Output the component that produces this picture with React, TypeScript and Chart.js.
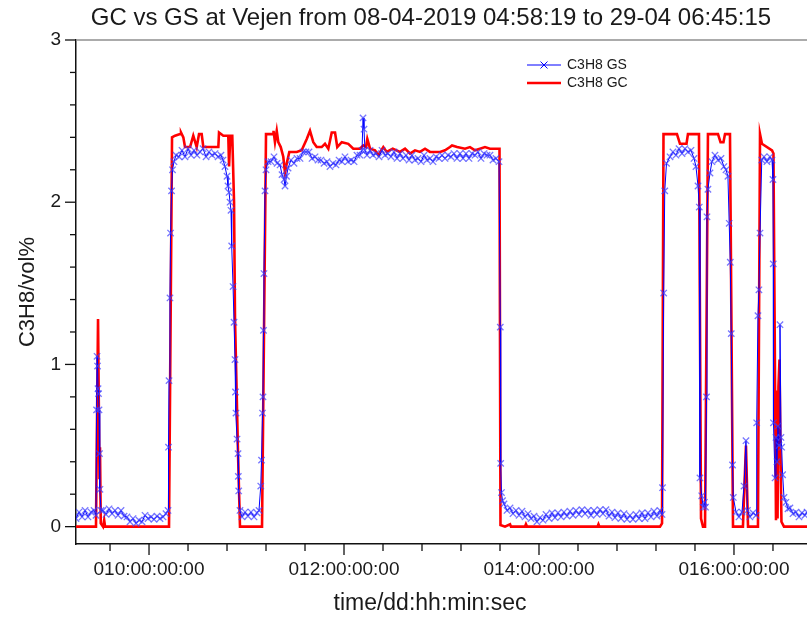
import React, { useEffect, useRef } from "react";
import { Chart, registerables } from "chart.js";
Chart.register(...registerables);

const FONT = '"Liberation Sans", Arial, Helvetica, sans-serif';

const chartTitle = "GC vs GS at Vejen from 08-04-2019 04:58:19 to 29-04 06:45:15";
const xAxisTitle = "time/dd:hh:min:sec";
const yAxisTitle = "C3H8/vol%";
const seriesNames = ["C3H8 GS", "C3H8 GC"];

const xMajorTicks = [10, 12, 14, 16];
const xTickLabels = ["010:00:00:00", "012:00:00:00", "014:00:00:00", "016:00:00:00"];
const xMinorTicks = [9.6, 10.4, 10.8, 11.2, 11.6, 12.4, 12.8, 13.2, 13.6, 14.4, 14.8, 15.2, 15.6, 16.4];
const yMajorTicks = [0, 1, 2, 3];
const yTickLabels = ["0", "1", "2", "3"];
const yMinorTicks = [0.2, 0.4, 0.6, 0.8, 1.2, 1.4, 1.6, 1.8, 2.2, 2.4, 2.6, 2.8];

// C3H8 GS (time in days, value in vol%)
const gsTime = [
  9.251, 9.282, 9.313, 9.344, 9.374, 9.405, 9.436, 9.456, 9.462, 9.467, 9.472, 9.477, 9.482, 9.487, 9.492, 9.497,
  9.508, 9.528, 9.559, 9.59, 9.621, 9.651, 9.682, 9.713, 9.744, 9.774, 9.805, 9.836, 9.867, 9.897, 9.928, 9.959,
  9.99, 10.021, 10.051, 10.082, 10.113, 10.144, 10.174, 10.195, 10.2, 10.205, 10.215, 10.221, 10.231, 10.241, 10.256,
  10.277, 10.308, 10.338, 10.369, 10.4, 10.431, 10.462, 10.492, 10.523, 10.554, 10.585, 10.615, 10.646, 10.677, 10.708,
  10.738, 10.759, 10.779, 10.8, 10.81, 10.821, 10.831, 10.841, 10.848, 10.862, 10.872, 10.882, 10.887, 10.892, 10.903,
  10.913, 10.916, 10.92, 10.933, 10.954, 10.985, 11.015, 11.046, 11.077, 11.108, 11.128, 11.146, 11.154, 11.164,
  11.169, 11.174, 11.179, 11.19, 11.2, 11.221, 11.251, 11.282, 11.313, 11.344, 11.364, 11.385, 11.395, 11.41, 11.426,
  11.456, 11.487, 11.518, 11.549, 11.579, 11.61, 11.641, 11.672, 11.703, 11.733, 11.764, 11.795, 11.826, 11.856,
  11.887, 11.918, 11.949, 11.979, 12.01, 12.041, 12.072, 12.103, 12.133, 12.164, 12.185, 12.195, 12.205, 12.215,
  12.236, 12.267, 12.297, 12.328, 12.359, 12.39, 12.421, 12.451, 12.482, 12.513, 12.544, 12.574, 12.605, 12.636,
  12.667, 12.697, 12.728, 12.759, 12.79, 12.821, 12.851, 12.882, 12.913, 12.944, 12.974, 13.005, 13.036, 13.067,
  13.097, 13.128, 13.159, 13.19, 13.221, 13.251, 13.282, 13.313, 13.344, 13.374, 13.405, 13.436, 13.467, 13.497,
  13.528, 13.559, 13.59, 13.603, 13.607, 13.615, 13.626, 13.641, 13.672, 13.703, 13.733, 13.764, 13.795, 13.826,
  13.856, 13.887, 13.918, 13.949, 13.979, 14.01, 14.041, 14.072, 14.103, 14.133, 14.164, 14.195, 14.226, 14.256,
  14.287, 14.318, 14.349, 14.379, 14.41, 14.441, 14.472, 14.503, 14.533, 14.564, 14.595, 14.626, 14.656, 14.687,
  14.718, 14.749, 14.779, 14.81, 14.841, 14.872, 14.903, 14.933, 14.964, 14.995, 15.026, 15.056, 15.087, 15.118,
  15.149, 15.179, 15.21, 15.241, 15.262, 15.267, 15.279, 15.29, 15.308, 15.344, 15.374, 15.405, 15.436, 15.467,
  15.497, 15.528, 15.559, 15.59, 15.61, 15.631, 15.644, 15.651, 15.669, 15.685, 15.697, 15.708, 15.718, 15.723,
  15.733, 15.754, 15.774, 15.805, 15.836, 15.867, 15.897, 15.918, 15.938, 15.951, 15.962, 15.972, 15.985, 15.993,
  16.021, 16.051, 16.082, 16.103, 16.123, 16.138, 16.164, 16.195, 16.226, 16.233, 16.246, 16.256, 16.267, 16.285,
  16.308, 16.338, 16.369, 16.39, 16.4, 16.403, 16.405, 16.421, 16.431, 16.441, 16.451, 16.462, 16.472, 16.482,
  16.489, 16.499, 16.513, 16.533, 16.554, 16.574, 16.605, 16.636, 16.667, 16.697, 16.728, 16.749,
];
const gsValue = [
  0.05, 0.09, 0.06, 0.1, 0.06, 0.09, 0.1, 0.07, 0.72, 1.05, 0.99, 0.85, 0.82, 0.72, 0.45, 0.23,
  0.1, 0.1, 0.075, 0.11, 0.08, 0.1, 0.07, 0.1, 0.065, 0.06, 0.03, 0.05, 0.02, 0.04, 0.03, 0.07,
  0.05, 0.06, 0.045, 0.065, 0.05, 0.06, 0.08, 0.1, 0.49, 0.9, 1.41, 1.81, 2.07, 2.2, 2.25,
  2.29, 2.28, 2.32, 2.28, 2.33, 2.29, 2.32, 2.29, 2.31, 2.33, 2.28, 2.31, 2.29, 2.3, 2.28,
  2.29, 2.26, 2.22, 2.16, 2.1, 2.06, 2.0, 1.95, 1.73, 1.48, 1.26, 1.03, 0.83, 0.7, 0.54,
  0.45, 0.31, 0.22, 0.1, 0.06, 0.09, 0.065, 0.09, 0.06, 0.085, 0.1, 0.25, 0.41, 0.7,
  0.8, 1.21, 1.56, 2.07, 2.2, 2.25, 2.25, 2.28, 2.24, 2.23, 2.17, 2.14, 2.1, 2.16, 2.21,
  2.26, 2.24, 2.27, 2.27, 2.31, 2.31, 2.31, 2.27, 2.28, 2.26, 2.26, 2.24, 2.25, 2.22,
  2.24, 2.23, 2.26, 2.25, 2.28, 2.25, 2.26, 2.25, 2.29, 2.29, 2.32, 2.52, 2.45, 2.32,
  2.29, 2.32, 2.29, 2.3, 2.28, 2.32, 2.29, 2.3, 2.28, 2.31, 2.27, 2.3, 2.27, 2.29,
  2.26, 2.29, 2.26, 2.27, 2.25, 2.29, 2.26, 2.27, 2.25, 2.28, 2.27, 2.29, 2.27, 2.29,
  2.28, 2.3, 2.27, 2.3, 2.27, 2.3, 2.27, 2.3, 2.29, 2.31, 2.27, 2.3, 2.29, 2.29,
  2.26, 2.27, 2.25, 1.23, 0.39, 0.21, 0.16, 0.14, 0.1, 0.115, 0.08, 0.1, 0.07, 0.095,
  0.06, 0.08, 0.05, 0.065, 0.03, 0.055, 0.04, 0.075, 0.05, 0.085, 0.055, 0.085, 0.06, 0.09,
  0.065, 0.095, 0.07, 0.1, 0.075, 0.105, 0.08, 0.1, 0.07, 0.1, 0.075, 0.105, 0.08, 0.105,
  0.065, 0.09, 0.055, 0.085, 0.05, 0.08, 0.045, 0.07, 0.045, 0.075, 0.05, 0.085, 0.05, 0.085,
  0.06, 0.095, 0.065, 0.1, 0.075, 0.24, 1.44, 2.07, 2.24, 2.28, 2.31, 2.29, 2.33, 2.3,
  2.33, 2.31, 2.32, 2.27, 2.22, 2.1, 1.97, 0.3, 0.19, 0.12, 0.15, 0.12, 0.8, 1.91,
  2.08, 2.18, 2.25, 2.29, 2.26, 2.27, 2.22, 2.2, 2.16, 1.87, 1.63, 1.19, 0.38, 0.18,
  0.09, 0.06, 0.09, 0.25, 0.53, 0.1, 0.06, 0.085, 0.07, 0.64, 1.3, 1.46, 1.81, 2.26,
  2.28, 2.25, 2.28, 2.26, 2.14, 1.62, 0.64, 0.3, 0.55, 0.4, 0.62, 0.5, 1.245, 0.55,
  0.49, 0.32, 0.18, 0.15, 0.11, 0.115, 0.08, 0.09, 0.06, 0.085, 0.07, 0.09,
];

// C3H8 GC (time in days, value in vol%)
const gcTime = [
  9.251, 9.456, 9.477, 9.492, 9.497, 9.505, 9.528, 9.54, 9.549, 10.205, 10.236, 10.267, 10.318, 10.328, 10.352,
  10.369, 10.421, 10.454, 10.489, 10.513, 10.54, 10.557, 10.711, 10.718, 10.762, 10.813, 10.821, 10.834, 10.854,
  10.872, 10.882, 10.913, 10.933, 11.159, 11.2, 11.272, 11.277, 11.292, 11.31, 11.326, 11.351, 11.377, 11.395,
  11.413, 11.439, 11.515, 11.566, 11.618, 11.651, 11.685, 11.72, 11.771, 11.805, 11.839, 11.874, 11.908, 11.931,
  11.977, 12.044, 12.095, 12.164, 12.198, 12.226, 12.239, 12.267, 12.318, 12.352, 12.403, 12.438, 12.5, 12.574,
  12.626, 12.677, 12.728, 12.779, 12.831, 12.882, 12.933, 12.985, 13.036, 13.087, 13.108, 13.16, 13.241, 13.292,
  13.344, 13.395, 13.446, 13.497, 13.595, 13.605, 13.651, 13.703, 13.713, 13.856, 13.866, 13.877, 14.6, 14.61,
  14.62, 15.241, 15.262, 15.277, 15.415, 15.446, 15.513, 15.528, 15.641, 15.662, 15.682, 15.703, 15.733, 15.836,
  15.862, 15.892, 15.908, 15.959, 15.99, 16.092, 16.123, 16.144, 16.246, 16.267, 16.287, 16.39, 16.405, 16.431,
  16.441, 16.447, 16.456, 16.467, 16.477, 16.487, 16.513, 16.749,
];
const gcValue = [
  0.0, 0.0, 1.28, 0.3, 0.49, 0.02, 0.0, 0.04, 0.0, 0.0, 2.4, 2.41, 2.42, 2.43, 2.4,
  2.34, 2.34, 2.41, 2.34, 2.42, 2.42, 2.34, 2.34, 2.43, 2.41, 2.41, 2.22, 2.41, 2.41,
  2.0, 1.28, 0.45, 0.0, 0.0, 2.42, 2.42, 2.44, 2.37, 2.44, 2.37, 2.34, 2.28, 2.18,
  2.24, 2.31, 2.31, 2.32, 2.39, 2.44, 2.37, 2.34, 2.34, 2.36, 2.33, 2.43, 2.43, 2.34,
  2.37, 2.36, 2.33, 2.33, 2.35, 2.34, 2.39, 2.33, 2.32, 2.29, 2.34, 2.31, 2.33, 2.31,
  2.33, 2.3, 2.32, 2.31, 2.33, 2.31, 2.31, 2.31, 2.32, 2.34, 2.35, 2.34, 2.33, 2.34,
  2.32, 2.33, 2.34, 2.33, 2.33, 0.01, 0.0, 0.015, 0.0, 0.0, 0.015, 0.0, 0.0, 0.015,
  0.0, 0.0, 0.02, 2.42, 2.42, 2.36, 2.36, 2.42, 2.42, 0.05, 0.0, 0.0, 2.42, 2.42,
  2.37, 2.37, 2.42, 2.42, 0.0, 0.0, 0.5, 0.0, 0.0, 2.42, 2.36, 2.32, 2.3, 0.04,
  0.84, 0.05, 0.86, 1.03, 0.45, 0.03, 0.0, 0.0,
];

const X_MIN = 9.251;
const X_MAX = 16.749;
const Y_MIN = -0.107;
const Y_MAX = 3;

const decorPlugin = {
  id: "decor",
  afterDraw(chart: any) {
    const { ctx, chartArea: a } = chart;
    const xs = chart.scales.x;
    const ys = chart.scales.y;
    ctx.save();
    ctx.strokeStyle = "#8f8f8f";
    ctx.lineWidth = 1.5;
    ctx.beginPath();
    ctx.moveTo(a.left, a.top);
    ctx.lineTo(a.right, a.top);
    ctx.stroke();
    ctx.strokeStyle = "#111";
    ctx.lineWidth = 1.3;
    const tick = (x1: number, y1: number, x2: number, y2: number) => {
      ctx.beginPath();
      ctx.moveTo(x1, y1);
      ctx.lineTo(x2, y2);
      ctx.stroke();
    };
    xMajorTicks.forEach((v) => { const p = xs.getPixelForValue(v); tick(p, a.bottom, p, a.bottom + 11); });
    xMinorTicks.forEach((v) => { const p = xs.getPixelForValue(v); tick(p, a.bottom, p, a.bottom + 7); });
    yMajorTicks.forEach((v) => { const p = ys.getPixelForValue(v); tick(a.left - 11, p, a.left, p); });
    yMinorTicks.forEach((v) => { const p = ys.getPixelForValue(v); tick(a.left - 6, p, a.left, p); });

    ctx.fillStyle = "#1a1a1a";
    ctx.textAlign = "center";
    ctx.textBaseline = "middle";
    ctx.font = `24px ${FONT}`;
    ctx.fillText(chartTitle, 431, 18);
    ctx.font = `23px ${FONT}`;
    ctx.fillText(xAxisTitle, 430, 604);
    ctx.save();
    ctx.translate(28, 292);
    ctx.rotate(-Math.PI / 2);
    ctx.font = `22px ${FONT}`;
    ctx.fillText(yAxisTitle, 0, 0);
    ctx.restore();

    const ds = chart.data.datasets;
    const lx = 527, lw = 34;
    const rows = [65, 83];
    ds.forEach((d: any, i: number) => {
      const y = rows[i];
      ctx.strokeStyle = d.borderColor;
      ctx.lineWidth = d.borderWidth;
      ctx.beginPath();
      ctx.moveTo(lx, y);
      ctx.lineTo(lx + lw, y);
      ctx.stroke();
      if (d.pointRadius > 0) {
        const cx = lx + lw / 2, r = 3.5;
        ctx.lineWidth = 1;
        ctx.strokeStyle = d.borderColor;
        ctx.beginPath();
        ctx.moveTo(cx - r, y - r); ctx.lineTo(cx + r, y + r);
        ctx.moveTo(cx - r, y + r); ctx.lineTo(cx + r, y - r);
        ctx.stroke();
      }
      ctx.fillStyle = "#1a1a1a";
      ctx.textAlign = "left";
      ctx.font = `14px ${FONT}`;
      ctx.fillText(d.label, lx + lw + 6, y);
    });
    ctx.restore();
  },
};

export default function App() {
  const ref = useRef<HTMLCanvasElement | null>(null);
  useEffect(() => {
    if (!ref.current) return;
    const gsData = gsTime.map((t, i) => ({ x: t, y: gsValue[i] }));
    const gcData = gcTime.map((t, i) => ({ x: t, y: gcValue[i] }));
    const chart = new Chart(ref.current, {
      type: "line",
      data: {
        datasets: [
          {
            label: seriesNames[0],
            data: gsData,
            borderColor: "#0000ff",
            borderWidth: 1,
            pointStyle: "crossRot",
            pointRadius: 4.5,
            pointBorderWidth: 1.3,
            pointBorderColor: "rgba(60,60,255,0.7)",
            pointBackgroundColor: "rgba(60,60,255,0.7)",
            tension: 0,
          },
          {
            label: seriesNames[1],
            data: gcData,
            borderColor: "#ff0000",
            borderWidth: 2.6,
            pointRadius: 0,
            tension: 0,
          },
        ],
      },
      options: {
        responsive: false,
        devicePixelRatio: 1,
        animation: false,
        events: [],
        layout: { autoPadding: false, padding: { top: 40, right: 0, left: 0, bottom: 0 } },
        plugins: { legend: { display: false }, title: { display: false }, tooltip: { enabled: false } },
        scales: {
          x: {
            type: "linear",
            min: X_MIN,
            max: X_MAX,
            afterFit: (s: any) => { s.height = 76; s.paddingLeft = 0; s.paddingRight = 0; },
            afterBuildTicks: (s: any) => {
              s.ticks = [...xMajorTicks, ...xMinorTicks].sort((a, b) => a - b).map((v) => ({ value: v }));
            },
            ticks: {
              autoSkip: false,
              maxRotation: 0,
              padding: 3,
              color: "#1a1a1a",
              font: { family: FONT, size: 19 },
              callback: (v: any) => {
                const i = xMajorTicks.findIndex((m) => Math.abs(m - Number(v)) < 1e-6);
                return i >= 0 ? xTickLabels[i] : "";
              },
            },
            grid: { display: true, drawOnChartArea: false, color: "rgba(0,0,0,0)", tickLength: 11 },
            border: { display: true, color: "#111", width: 1.5 },
          },
          y: {
            type: "linear",
            min: Y_MIN,
            max: Y_MAX,
            afterFit: (s: any) => { s.width = 76; s.paddingTop = 0; s.paddingBottom = 0; },
            afterBuildTicks: (s: any) => {
              s.ticks = [...yMajorTicks, ...yMinorTicks].sort((a, b) => a - b).map((v) => ({ value: v }));
            },
            ticks: {
              autoSkip: false,
              padding: 4,
              color: "#1a1a1a",
              font: { family: FONT, size: 19 },
              callback: (v: any) => {
                const i = yMajorTicks.findIndex((m) => Math.abs(m - Number(v)) < 1e-6);
                return i >= 0 ? yTickLabels[i] : "";
              },
            },
            grid: { display: true, drawOnChartArea: false, color: "rgba(0,0,0,0)", tickLength: 11 },
            border: { display: true, color: "#111", width: 1.5 },
          },
        },
      },
      plugins: [decorPlugin],
    } as any);
    return () => chart.destroy();
  }, []);
  return (
    <div style={{ position: "absolute", left: 0, top: 0, width: 807, height: 620, background: "#fff" }}>
      <canvas ref={ref} width={807} height={620} style={{ display: "block" }} />
    </div>
  );
}
